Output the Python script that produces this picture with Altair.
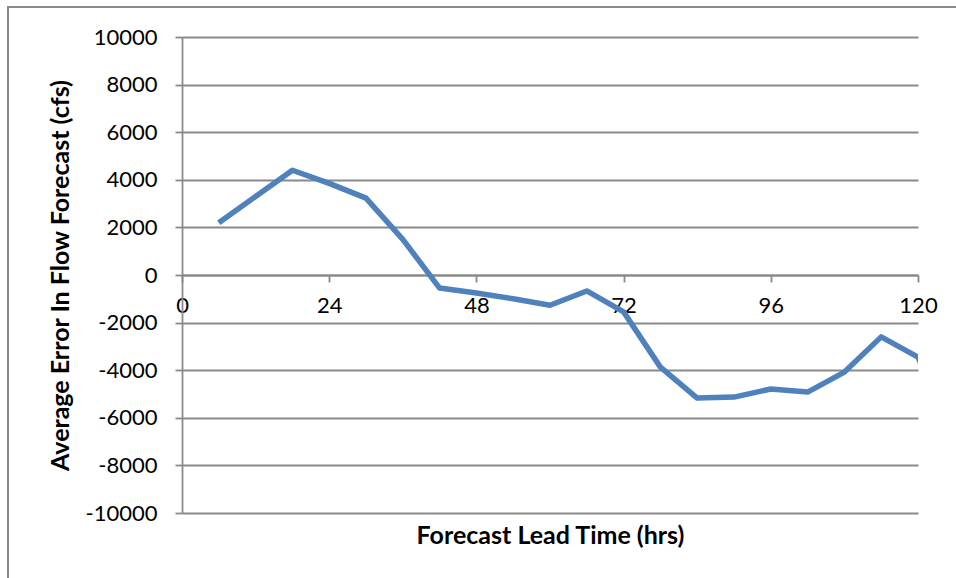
import altair as alt
import pandas as pd

# Forecast lead time (hours) and the average error in the flow forecast (cfs)
lead_hours = [6, 12, 18, 24, 30, 36, 42, 48, 54, 60, 66, 72, 78, 84, 90, 96, 102, 108, 114, 120, 126]
avg_error = [2200, 3300, 4400, 3850, 3230, 1500, -550, -760, -1000, -1270, -670, -1550,
             -3870, -5170, -5130, -4790, -4920, -4080, -2600, -3450, -7000]

x_ticks = [0, 24, 48, 72, 96, 120]
y_ticks = list(range(-10000, 10001, 2000))

W, H = 736, 476
FONT = "Lato"
GRID = "#8a8a8a"

df = pd.DataFrame({"hours": lead_hours, "error": avg_error})

x_scale = alt.Scale(domain=[0, 120], nice=False, zero=False)
y_scale = alt.Scale(domain=[-10000, 10000], nice=False)

line = alt.Chart(df).mark_line(
    color="#4F81BD", strokeWidth=5.5, clip=True, strokeJoin="round"
).encode(
    x=alt.X(
        "hours:Q",
        scale=x_scale,
        axis=alt.Axis(
            values=x_ticks,
            grid=False,
            offset=-H / 2,
            domainColor=GRID,
            domainWidth=1.8,
            tickColor=GRID,
            tickWidth=1.8,
            tickSize=7,
            labelFont=FONT,
            labelFontSize=22,
            labelColor="#000000",
            labelPadding=13,
            labelFlush=False,
            title="Forecast Lead Time (hrs)",
            titleFont=FONT,
            titleFontSize=25,
            titleFontWeight="bold",
            titleColor="#000000",
            titleX=W / 2,
            titleY=260,
            titleBaseline="middle",
        ),
    ),
    y=alt.Y(
        "error:Q",
        scale=y_scale,
        axis=alt.Axis(
            values=y_ticks,
            labelExpr="'' + datum.value",
            grid=True,
            gridColor=GRID,
            gridWidth=1.8,
            domainColor=GRID,
            domainWidth=1.8,
            tickColor=GRID,
            tickWidth=1.8,
            tickSize=7,
            labelFont=FONT,
            labelFontSize=22,
            labelColor="#000000",
            labelPadding=18,
            title="Average Error In Flow Forecast (cfs)",
            titleFont=FONT,
            titleFontSize=25,
            titleFontWeight="bold",
            titleColor="#000000",
            titleX=-122,
            titleY=H / 2,
            titleBaseline="middle",
            titleAngle=270,
        ),
    ),
)

# Outer chart frame
frame = alt.Chart(pd.DataFrame({"k": [0]})).mark_rect(
    fill=None, stroke="#8a8a8a", strokeWidth=2
).encode(
    x=alt.value(-174),
    x2=alt.value(W + 100),
    y=alt.value(-30),
    y2=alt.value(H + 100),
)

chart = alt.layer(frame, line).properties(
    width=W,
    height=H,
    padding={"left": 182, "top": 37, "right": 38, "bottom": 65},
    autosize=alt.AutoSizeParams(type="none"),
    background="#ffffff",
).configure_view(stroke=None)

chart.save("out.html", embed_options={"renderer": "svg", "actions": False})
